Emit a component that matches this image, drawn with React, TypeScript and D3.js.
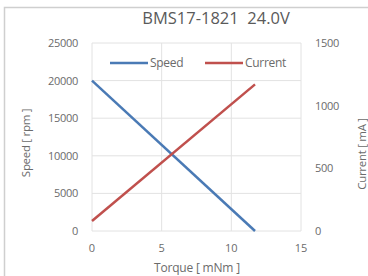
import React from "react";
import * as d3 from "d3";

const torque = [0, 11.7];
const speed = [20000, 0];
const current = [80, 1170];
const xTicks = [0, 5, 10, 15];
const speedTicks = [0, 5000, 10000, 15000, 20000, 25000];
const currentTicks = [0, 500, 1000, 1500];

const W = 368;
const H = 276;
const font = "'Open Sans', sans-serif";
const grey = "#6b6b6b";

const App: React.FC = () => {
  const x = d3.scaleLinear().domain([0, 15]).range([92, 301]);
  const yL = d3.scaleLinear().domain([0, 25000]).range([231, 43]);
  const yR = d3.scaleLinear().domain([0, 1500]).range([231, 43]);

  const speedLine = d3
    .line<number>()
    .x((_, i) => x(torque[i]))
    .y((d) => yL(d));
  const currentLine = d3
    .line<number>()
    .x((_, i) => x(torque[i]))
    .y((d) => yR(d));

  return (
    <svg
      width={W}
      height={H}
      style={{ position: "absolute", left: 0, top: 0, background: "#fff" }}
      fontFamily={font}
    >
      <rect x={4.5} y={7.5} width={370} height={280} fill="#fff" stroke="#cfcfcf" strokeWidth={1.5} />

      {speedTicks.map((t) => (
        <line key={"h" + t} x1={x(0)} x2={x(15)} y1={yL(t)} y2={yL(t)} stroke="#e2e2e2" />
      ))}
      {xTicks.map((t) => (
        <line key={"v" + t} x1={x(t)} x2={x(t)} y1={yL(25000)} y2={yL(0)} stroke="#e2e2e2" />
      ))}

      <path d={speedLine(speed) || ""} fill="none" stroke="#4a7ab5" strokeWidth={2.5} />
      <path d={currentLine(current) || ""} fill="none" stroke="#c0504d" strokeWidth={2.5} />

      <text x={216} y={24} textAnchor="middle" fontSize={16.5} fill="#5a5a5a" style={{ whiteSpace: "pre" }}>
        {"BMS17-1821  24.0V"}
      </text>

      {speedTicks.map((t) => (
        <text key={"l" + t} x={78} y={yL(t) + 4} textAnchor="end" fontSize={11} fill={grey} letterSpacing={-0.3}>
          {t}
        </text>
      ))}
      {currentTicks.map((t) => (
        <text key={"r" + t} x={315} y={yR(t) + 4} textAnchor="start" fontSize={11} fill={grey} letterSpacing={-0.3}>
          {t}
        </text>
      ))}
      {xTicks.map((t) => (
        <text key={"x" + t} x={x(t)} y={252} textAnchor="middle" fontSize={11} fill={grey}>
          {t}
        </text>
      ))}

      <text x={197} y={272} textAnchor="middle" fontSize={12} fill={grey} letterSpacing={-0.2}>
        Torque [ mNm ]
      </text>
      <text
        transform={`translate(30,143) rotate(-90)`}
        textAnchor="middle"
        fontSize={11.5}
        fill={grey}
        letterSpacing={-0.3}
      >
        Speed [ rpm ]
      </text>
      <text
        transform={`translate(366,154) rotate(-90)`}
        textAnchor="middle"
        fontSize={11.5}
        fill={grey}
        letterSpacing={-0.3}
      >
        Current [ mA ]
      </text>

      <line x1={110} x2={148} y1={63} y2={63} stroke="#4a7ab5" strokeWidth={2.5} />
      <text x={150} y={67} fontSize={12} fill={grey} letterSpacing={-0.3}>
        Speed
      </text>
      <line x1={205} x2={243} y1={63} y2={63} stroke="#c0504d" strokeWidth={2.5} />
      <text x={245} y={67} fontSize={12} fill={grey} letterSpacing={-0.3}>
        Current
      </text>
    </svg>
  );
};

export default App;
